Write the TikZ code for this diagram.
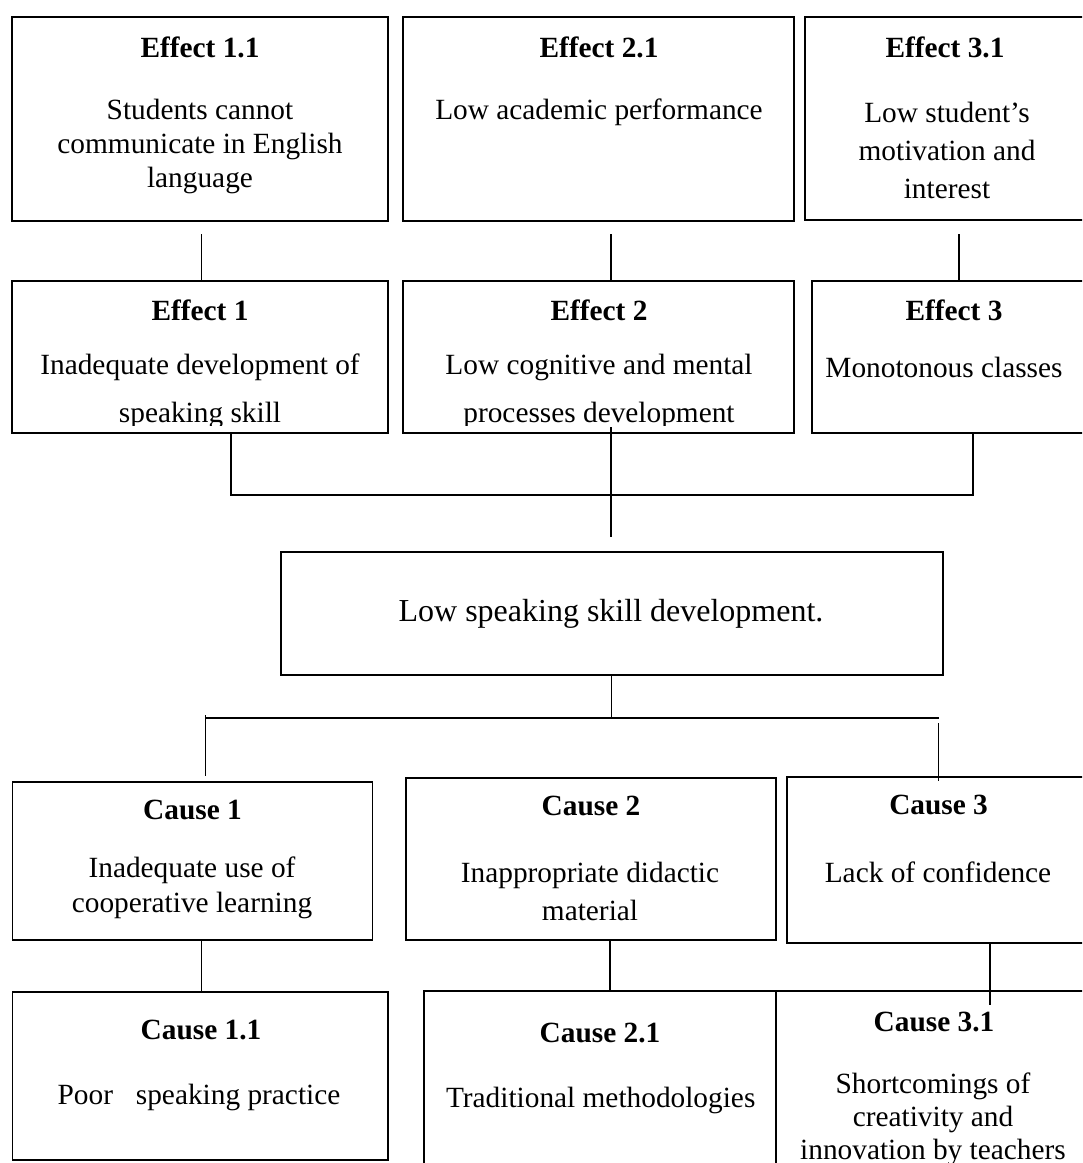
\documentclass[tikz,border=0pt]{standalone}
\usepackage{fontspec}
\setmainfont{Liberation Serif}
\usetikzlibrary{fit}
\tikzset{
  box/.style={draw, line width=1.1pt, inner sep=0pt},
  ttl/.style={font=\fontsize{22}{25}\selectfont\bfseries, inner sep=0pt},
  bdy/.style={font=\fontsize{22}{#1}\selectfont, align=center, inner sep=0pt},
  bdy/.default=26,
  core/.style={font=\fontsize{24}{28}\selectfont, inner sep=0pt},
  conn/.style={line width=1pt},
}
\begin{document}
\begin{tikzpicture}[x=0.75pt,y=-0.75pt]
\clip (0,0) rectangle (1082,1163);
\fill[white] (0,0) rectangle (1082,1163);

% ---- boxes ----
\node[box, fit={(12,17) (388,221)}] (e11) {};
\node[box, fit={(403,17) (794,221)}] (e21) {};
\node[box, fit={(805,17) (1095,220)}] (e31) {};
\node[box, fit={(12,281) (388,433)}] (e1) {};
\node[box, fit={(403,281) (794,433)}] (e2) {};
\node[box, fit={(812,281) (1095,433)}] (e3) {};
\node[box, fit={(281,552) (943,675)}] (cp) {};
\node[box, fit={(12.4,782) (372.7,940)}] (c1) {};
\node[box, fit={(406,778) (776,940)}] (c2) {};
\node[box, fit={(787,777) (1095,943)}] (c3) {};
\node[box, fit={(12.4,992) (388,1160)}] (c11) {};
\node[box, fit={(424,991) (776,1180)}] (c21) {};
\node[box, fit={(776,991) (1095,1180)}] (c31) {};

% ---- texts ----
\node[ttl] (e11h) at (200,47) {Effect 1.1};
\node[bdy=25.5] (e11b) at (200,146) {Students cannot\\communicate in English\\language};
\node[ttl] (e21h) at (599,47) {Effect 2.1};
\node[bdy] (e21b) at (599,112) {Low academic performance};
\node[ttl] (e31h) at (945,47) {Effect 3.1};
\node[bdy=28.5] (e31b) at (947,150) {Low student’s\\motivation and\\interest};

\node[ttl] (e1h) at (200,310) {Effect 1};
\node[ttl] (e2h) at (599,310) {Effect 2};
\node[ttl] (e3h) at (954,310) {Effect 3};
\begin{scope}
  \clip (12,281) rectangle (794,425);
  \node[bdy=36] (e1b) at (200,391) {Inadequate development of\\speaking skill};
  \node[bdy=36] (e2b) at (599,391) {Low cognitive and mental\\processes development};
\end{scope}
\node[bdy] (e3b) at (944,367) {Monotonous classes};

\node[core] (cpt) at (611,614) {Low speaking skill development.};

\node[ttl] (c1h) at (192.5,810) {Cause 1};
\node[bdy=26.25] (c1b) at (192,887.5) {Inadequate use of\\cooperative learning};
\node[ttl] (c2h) at (591,806) {Cause 2};
\node[bdy=28.5] (c2b) at (590,891) {Inappropriate didactic\\material};
\node[ttl] (c3h) at (938.6,805) {Cause 3};
\node[bdy] (c3b) at (938,872) {Lack of confidence};

\node[ttl] (c11h) at (201,1030) {Cause 1.1};
\node[bdy] (c11b) at (199,1097) {Poor\hspace{0.78em}speaking practice};
\node[ttl] (c21h) at (600,1033) {Cause 2.1};
\node[bdy] (c21b) at (600.7,1100) {Traditional methodologies};
\node[ttl] (c31h) at (934,1022) {Cause 3.1};
\node[bdy=24.75] (c31b) at (933,1119.5) {Shortcomings of\\creativity and\\innovation by teachers};

% ---- connectors ----
\coordinate (k1) at (201.5,234);
\coordinate (k2) at (611,234);
\coordinate (k3) at (959,234);
\draw[conn] (k1) -- (k1 |- e1.north);
\draw[conn] (k2) -- (k2 |- e2.north);
\draw[conn] (k3) -- (k3 |- e3.north);

\coordinate (j1) at (231,495);
\coordinate (j3) at (973,495);
\draw[conn] (j1 |- e1.south) -- (j1) -- (j3) -- (j3 |- e3.south);
\coordinate (m1) at (611,427);
\coordinate (m2) at (611,537);
\draw[conn] (m1) -- (m2);

\coordinate (h0) at (611.5,718);
\coordinate (hl) at (205.6,718);
\coordinate (hr) at (938.6,718);
\draw[conn] (h0 |- cp.south) -- (h0);
\draw[line width=1.4pt] (hl) -- (hr);
\coordinate (hlb) at (205.6,776);
\draw[conn] (205.6,715) coordinate (hlt) -- (hlb);
\coordinate (hrt) at (938.6,723);
\coordinate (hrb) at (938.6,781);
\draw[conn] (hrt) -- (hrb);

\coordinate (p1) at (201.5,940);
\coordinate (p2) at (610,940);
\coordinate (p3) at (990,943);
\draw[conn] (p1) -- (p1 |- c11.north);
\draw[conn] (p2) -- (p2 |- c21.north);
\coordinate (p3b) at (990,1005);
\draw[conn] (p3) -- (p3b);
\end{tikzpicture}
\end{document}
